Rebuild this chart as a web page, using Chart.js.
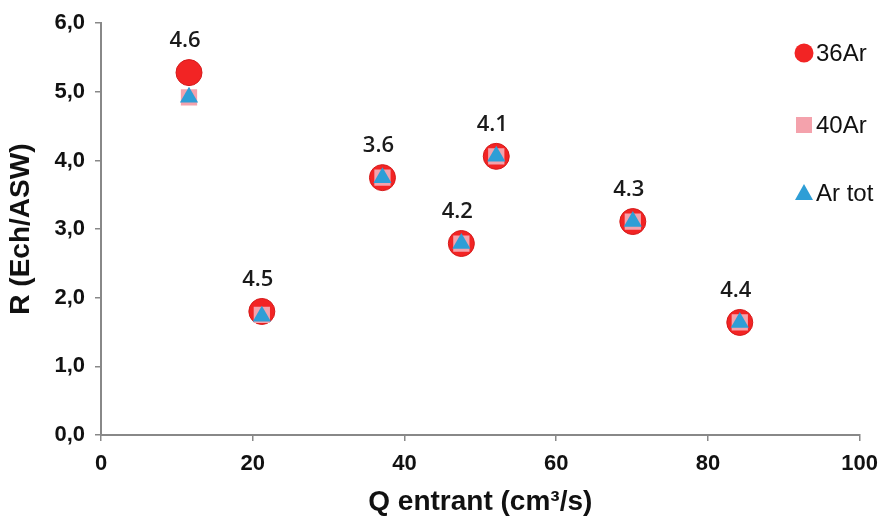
<!DOCTYPE html>
<html><head><meta charset="utf-8">
<script src="https://cdn.jsdelivr.net/npm/chart.js@4/dist/chart.umd.min.js"></script>
<style>html,body{margin:0;padding:0;background:#fff}#wrap{width:888px;height:519px}</style>
</head><body><div id="wrap"><canvas id="c"></canvas></div>
<script>
const seriesNames = ['36Ar', '40Ar', 'Ar tot'];
const qEntrant = [11.6, 21.2, 37.1, 47.5, 52.1, 70.1, 84.2];
const r36Ar = [5.28, 1.80, 3.75, 2.79, 4.06, 3.11, 1.64];
const r40Ar = [4.92, 1.75, 3.75, 2.79, 4.06, 3.11, 1.64];
const rArTot = [4.92, 1.73, 3.75, 2.79, 4.06, 3.11, 1.64];
const pointLabels = ['4.6', '4.5', '3.6', '4.2', '4.1', '4.3', '4.4'];
const xTicks = [0, 20, 40, 60, 80, 100];
const yTicks = [0, 1, 2, 3, 4, 5, 6];

const toPts = ys => qEntrant.map((x, i) => ({x, y: ys[i]}));
const FONT = '"Liberation Sans", Arial, sans-serif';

const labelPlugin = {
  id: 'ptLabels',
  afterDatasetsDraw(chart) {
    const meta = chart.getDatasetMeta(0);
    const ctx = chart.ctx;
    ctx.save();
    ctx.font = '600 22px "Open Sans", sans-serif';
    ctx.fillStyle = '#1a1a1a';
    ctx.textAlign = 'center';
    ctx.textBaseline = 'middle';
    meta.data.forEach((el, i) => {
      ctx.fillText(pointLabels[i], el.x - 4, el.y - 32);
    });
    ctx.restore();
  }
};

const legendPlugin = {
  id: 'sideLegend',
  afterDraw(chart) {
    const ctx = chart.ctx;
    const ys = [53, 125, 193];
    ctx.save();
    chart.data.datasets.forEach((ds, i) => {
      const y = ys[i];
      const x = 804;
      ctx.fillStyle = ds.backgroundColor;
      ctx.beginPath();
      if (ds.pointStyle === 'circle') {
        ctx.arc(x, y, 9.5, 0, Math.PI * 2);
      } else if (ds.pointStyle === 'rect') {
        ctx.rect(x - 8, y - 8, 16, 16);
      } else {
        ctx.moveTo(x, y - 9);
        ctx.lineTo(x + 9, y + 7);
        ctx.lineTo(x - 9, y + 7);
        ctx.closePath();
      }
      ctx.fill();
      ctx.font = '24px ' + FONT;
      ctx.fillStyle = '#111';
      ctx.textAlign = 'left';
      ctx.textBaseline = 'middle';
      ctx.fillText(ds.label, 816, y + 1);
    });
    ctx.restore();
  }
};

new Chart(document.getElementById('c'), {
  type: 'scatter',
  data: {
    datasets: [
      {label: seriesNames[0], data: toPts(r36Ar), order: 3, pointStyle: 'circle', pointRadius: 13, pointHoverRadius: 13,
       backgroundColor: '#f22424', borderColor: '#d51a1a', borderWidth: 1},
      {label: seriesNames[1], data: toPts(r40Ar), order: 2, pointStyle: 'rect', pointRadius: 11.5, pointHoverRadius: 11.5,
       backgroundColor: '#f4a2ac', borderColor: '#f4a2ac', borderWidth: 0},
      {label: seriesNames[2], data: toPts(rArTot), order: 1, pointStyle: 'triangle', pointRadius: 10.5, pointHoverRadius: 10.5,
       backgroundColor: '#2e9ed6', borderColor: '#2e9ed6', borderWidth: 0}
    ]
  },
  options: {
    responsive: true,
    maintainAspectRatio: false,
    animation: false,
    layout: {padding: {top: 22, right: 27, bottom: 0, left: 4}},
    plugins: {legend: {display: false}, tooltip: {enabled: false}},
    scales: {
      x: {
        type: 'linear', min: 0, max: 100,
        afterBuildTicks: s => { s.ticks = xTicks.map(v => ({value: v})); },
        ticks: {font: {family: FONT, size: 22, weight: 'bold'}, color: '#111', padding: 10},
        grid: {drawOnChartArea: false, drawTicks: true, tickLength: 6, color: '#888', lineWidth: 1.5},
        border: {color: '#888', width: 2},
        title: {display: true, text: 'Q entrant (cm³/s)', font: {family: FONT, size: 28, weight: 'bold'}, color: '#111', padding: {top: 0, bottom: 0}},
        afterFit: s => { s.height = 84; }
      },
      y: {
        type: 'linear', min: 0, max: 6,
        afterBuildTicks: s => { s.ticks = yTicks.map(v => ({value: v})); },
        ticks: {font: {family: FONT, size: 22, weight: 'bold'}, color: '#111', padding: 10,
          callback: v => v.toFixed(1).replace('.', ',')},
        grid: {drawOnChartArea: false, drawTicks: true, tickLength: 6, color: '#888', lineWidth: 1.5},
        border: {color: '#888', width: 2},
        title: {display: true, text: 'R (Ech/ASW)', font: {family: FONT, size: 28, weight: 'bold'}, color: '#111', padding: {top: 0, bottom: 0}},
        afterFit: s => { s.width = 97; }
      }
    }
  },
  plugins: [labelPlugin, legendPlugin]
});
</script></body></html>
